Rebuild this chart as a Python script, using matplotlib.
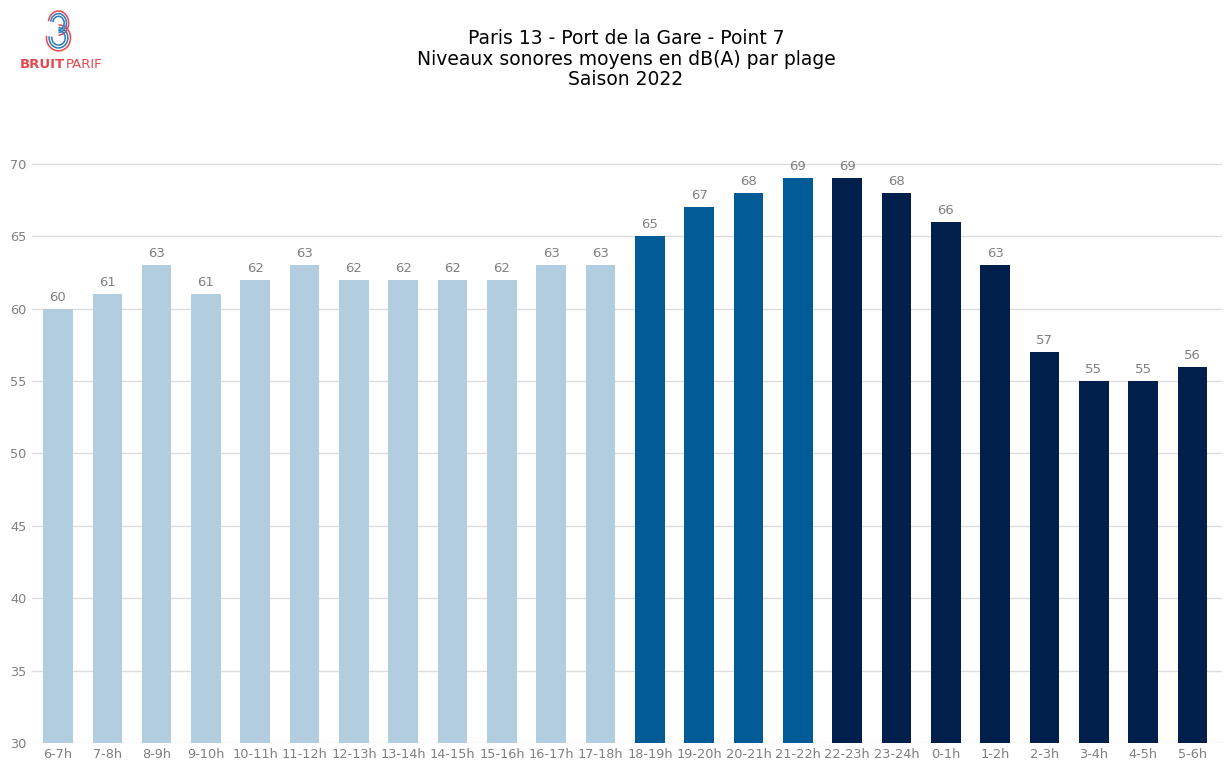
import matplotlib.pyplot as plt
import numpy as np
from matplotlib.patches import Arc

plages = ["6-7h", "7-8h", "8-9h", "9-10h", "10-11h", "11-12h", "12-13h", "13-14h",
          "14-15h", "15-16h", "16-17h", "17-18h", "18-19h", "19-20h", "20-21h", "21-22h",
          "22-23h", "23-24h", "0-1h", "1-2h", "2-3h", "3-4h", "4-5h", "5-6h"]
niveaux = [60, 61, 63, 61, 62, 63, 62, 62, 62, 62, 63, 63,
           65, 67, 68, 69, 69, 68, 66, 63, 57, 55, 55, 56]
periode = ["jour"] * 12 + ["soir"] * 4 + ["nuit"] * 8

couleurs = {"jour": "#b3cde0", "soir": "#005b96", "nuit": "#011f4b"}
gris = "#808080"

fig = plt.figure(figsize=(12.25, 7.65), dpi=100)
ax = fig.add_axes([0.026, 0.0288, 0.9716, 0.7947])

x = np.arange(len(plages))
ax.bar(x, [v - 30 for v in niveaux], bottom=30, width=0.6,
       color=[couleurs[p] for p in periode], zorder=3)
for xi, v in zip(x, niveaux):
    ax.text(xi, v + 0.35, str(v), ha="center", va="bottom", fontsize=9.5, color=gris)

ax.set_ylim(30, 72)
ax.set_xlim(-0.53, 23.6)
ax.set_yticks(range(30, 71, 5))
ax.set_xticks(x)
ax.set_xticklabels(plages)
ax.tick_params(axis="both", length=0, colors=gris, labelsize=9.3)
ax.tick_params(axis="y", pad=4)
ax.grid(axis="y", color="#dddddd", linewidth=1, zorder=0)
for s in ax.spines.values():
    s.set_visible(False)

fig.text(0.511, 0.962, "Paris 13 - Port de la Gare - Point 7\nNiveaux sonores moyens en dB(A) par plage\nSaison 2022",
         ha="center", va="top", fontsize=13.5, linespacing=1.1)

# logo Bruitparif (simplifié)
lax = fig.add_axes([0.030, 0.93, 0.034, 0.058])
lax.set_xlim(-1, 1)
lax.set_ylim(-1.2, 1.2)
lax.axis("off")
lax.set_aspect("equal")
for r, c in [(1.0, "#e8464f"), (0.78, "#2a7ab8"), (0.56, "#2a7ab8")]:
    lax.add_patch(Arc((0.05, 0.45), r * 1.1, r * 1.3, theta1=-90, theta2=170, color=c, lw=1.1))
    lax.add_patch(Arc((0.05, -0.35), r * 1.3, r * 1.4, theta1=-190, theta2=90, color=c, lw=1.1))
bruit = fig.text(0.0165, 0.916, "BRUIT", fontsize=9.5, fontweight="bold", color="#e8464f",
                 ha="left", va="center")
lax.annotate("PARIF", xy=(1, 0.5), xycoords=bruit, ha="left", va="center",
             fontsize=9.5, color="#e8464f", annotation_clip=False)

fig.savefig("out.png", dpi=100)
